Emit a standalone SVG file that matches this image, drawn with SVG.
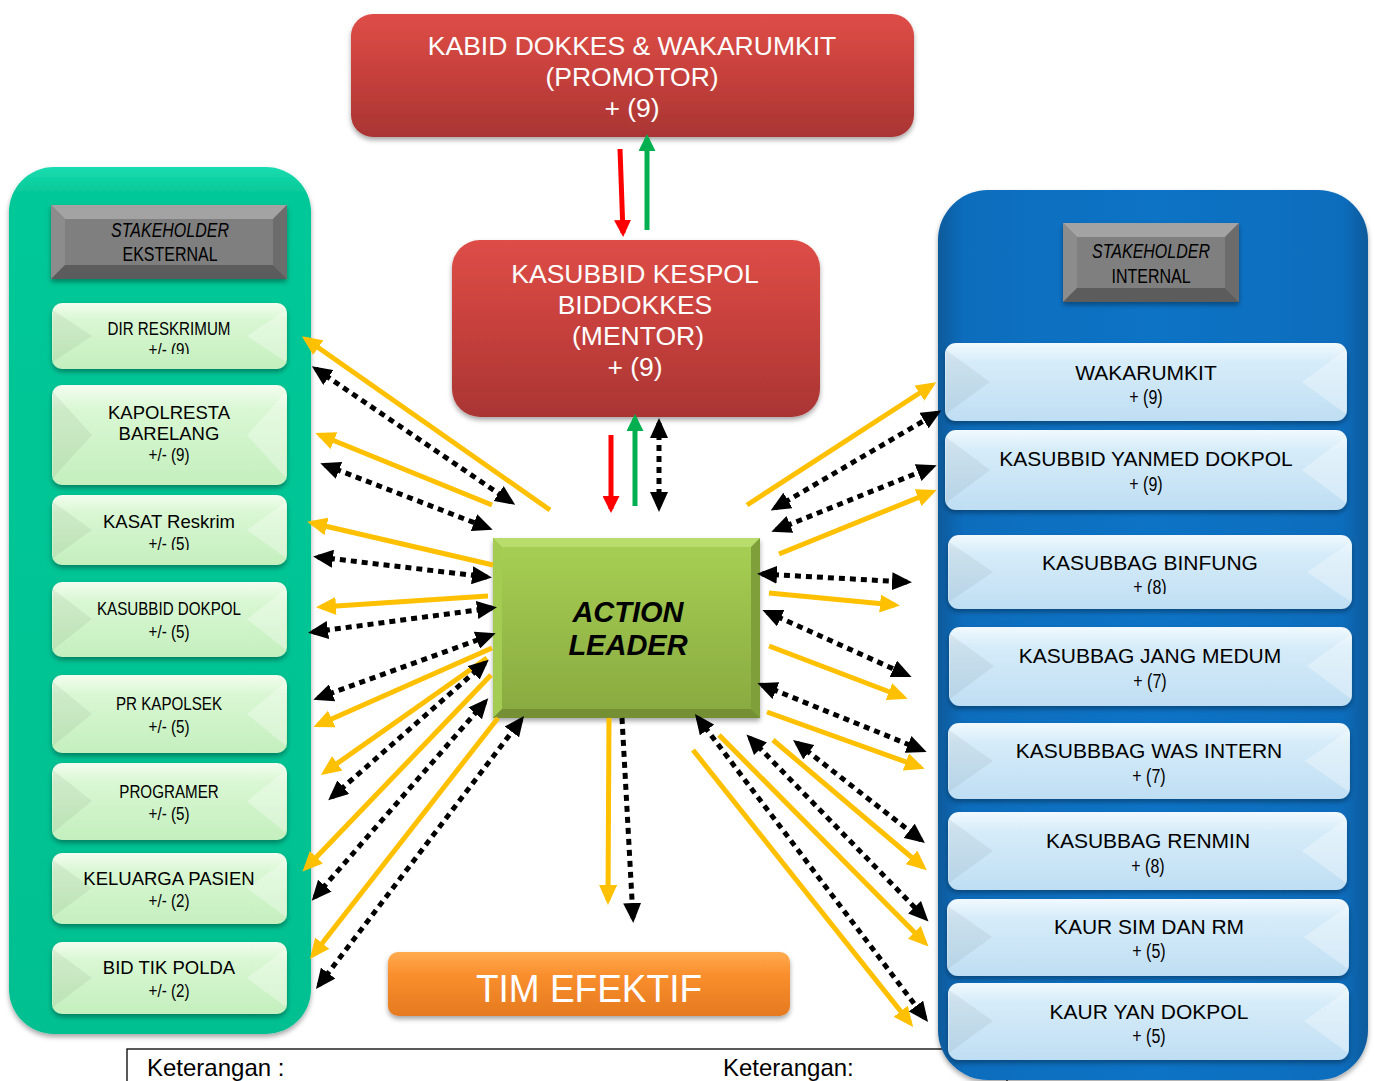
<svg xmlns="http://www.w3.org/2000/svg" width="1375" height="1081" viewBox="0 0 1375 1081">
<defs>
<style>
.t{font-family:"Liberation Sans",Arial,sans-serif;text-anchor:middle;fill:#000}
.n{font-family:"Liberation Sans",Arial,sans-serif;text-anchor:middle;fill:#000}
.w{fill:#fff;font-size:26.5px}
.s18{font-size:18.5px}
.s19{font-size:19.5px}
.s21{font-size:21px}
.yl{stroke:#ffc000;stroke-width:5;fill:none;marker-end:url(#ay)}
.bd{stroke:#000;stroke-width:5;fill:none;stroke-dasharray:6 5;marker-start:url(#ab);marker-end:url(#ab)}
.bs{stroke:#000;stroke-width:5;fill:none;stroke-dasharray:6 5;marker-end:url(#ab)}
.gi{fill:url(#gG)}
.bi{fill:url(#gB)}
.sl{fill:#000;opacity:.05}
.sr{fill:#fff;opacity:.3}
</style>
<linearGradient id="gG" x1="0" y1="0" x2="0" y2="1"><stop offset="0" stop-color="#f3fdef"/><stop offset=".25" stop-color="#d9f7d3"/><stop offset="1" stop-color="#c4efbe"/></linearGradient>
<linearGradient id="gB" x1="0" y1="0" x2="0" y2="1"><stop offset="0" stop-color="#f1f9fe"/><stop offset=".25" stop-color="#d6ecf9"/><stop offset="1" stop-color="#bfdef3"/></linearGradient>
<linearGradient id="gR" x1="0" y1="0" x2="0" y2="1"><stop offset="0" stop-color="#de4d47"/><stop offset=".5" stop-color="#c6403c"/><stop offset="1" stop-color="#a93533"/></linearGradient>
<linearGradient id="gT" x1="0" y1="0" x2="0" y2="1"><stop offset="0" stop-color="#19dcb0"/><stop offset=".03" stop-color="#05c898"/><stop offset="1" stop-color="#02c091"/></linearGradient>
<linearGradient id="gBl" x1="0" y1="0" x2="1" y2="0"><stop offset="0" stop-color="#0b5a9b"/><stop offset=".06" stop-color="#0a6dbd"/><stop offset=".5" stop-color="#0a73c5"/><stop offset=".94" stop-color="#0a6dbd"/><stop offset="1" stop-color="#0b5a9b"/></linearGradient>
<linearGradient id="gO" x1="0" y1="0" x2="0" y2="1"><stop offset="0" stop-color="#ffab50"/><stop offset=".35" stop-color="#fa8f2e"/><stop offset="1" stop-color="#e57a20"/></linearGradient>
<linearGradient id="gA" x1="0" y1="0" x2="0" y2="1"><stop offset="0" stop-color="#a8d054"/><stop offset="1" stop-color="#88a940"/></linearGradient>
<filter id="sh" x="-10%" y="-10%" width="120%" height="130%"><feDropShadow dx="0" dy="3" stdDeviation="2.5" flood-color="#000" flood-opacity=".35"/></filter>
<marker id="ay" markerUnits="userSpaceOnUse" markerWidth="20" markerHeight="18" viewBox="0 0 20 18" refX="15" refY="9" orient="auto"><path d="M0,0 L20,9 L0,18Z" fill="#ffc000"/></marker>
<marker id="ab" markerUnits="userSpaceOnUse" markerWidth="20" markerHeight="18" viewBox="0 0 20 18" refX="15" refY="9" orient="auto-start-reverse"><path d="M0,0 L20,9 L0,18Z" fill="#000"/></marker>
<marker id="ar" markerUnits="userSpaceOnUse" markerWidth="17" markerHeight="17" viewBox="0 0 17 17" refX="13" refY="8.5" orient="auto"><path d="M0,0 L17,8.5 L0,17Z" fill="#ff0000"/></marker>
<marker id="ag" markerUnits="userSpaceOnUse" markerWidth="17" markerHeight="17" viewBox="0 0 17 17" refX="13" refY="8.5" orient="auto"><path d="M0,0 L17,8.5 L0,17Z" fill="#00b050"/></marker>
<clipPath id="c1"><rect x="52" y="300" width="235" height="54"/></clipPath>
<clipPath id="c3"><rect x="52" y="492" width="235" height="58"/></clipPath>
<clipPath id="c9"><rect x="948" y="530" width="404" height="64"/></clipPath>
</defs>
<rect width="1375" height="1081" fill="#fff"/>

<g id="keterangan">
<rect x="127" y="1049" width="880" height="60" fill="#fff" stroke="#000" stroke-width="1.3"/>
<text class="t" x="147" y="1076" font-size="24" style="text-anchor:start">Keterangan :</text>
<text class="t" x="723" y="1076" font-size="24" style="text-anchor:start">Keterangan:</text>
</g>

<g id="panel-eksternal">
<rect x="9" y="167" width="302" height="867" rx="45" fill="url(#gT)" filter="url(#sh)"/>
</g>
<g id="panel-internal">
<rect x="938" y="190" width="430" height="890" rx="50" fill="url(#gBl)" filter="url(#sh)"/>
</g>

<g id="hdr-eksternal">
<rect x="51" y="205" width="236" height="74" fill="#7f7f7f" filter="url(#sh)"/>
<path d="M51,205 L287,205 L273,219 L65,219Z" fill="#a3a3a3"/>
<path d="M51,205 L65,219 L65,265 L51,279Z" fill="#8c8c8c"/>
<path d="M287,205 L273,219 L273,265 L287,279Z" fill="#6c6c6c"/>
<path d="M51,279 L65,265 L273,265 L287,279Z" fill="#5c5c5c"/>
<text class="n s19" transform="translate(170,237) scale(0.82,1)" font-style="italic">STAKEHOLDER</text>
<text class="n s19" transform="translate(170,261) scale(0.82,1)">EKSTERNAL</text>
</g>

<g id="hdr-internal">
<rect x="1063" y="223" width="176" height="79" fill="#7f7f7f" filter="url(#sh)"/>
<path d="M1063,223 L1239,223 L1225,237 L1077,237Z" fill="#a3a3a3"/>
<path d="M1063,223 L1077,237 L1077,288 L1063,302Z" fill="#8c8c8c"/>
<path d="M1239,223 L1225,237 L1225,288 L1239,302Z" fill="#6c6c6c"/>
<path d="M1063,302 L1077,288 L1225,288 L1239,302Z" fill="#5c5c5c"/>
<text class="n s19" transform="translate(1151,258) scale(0.82,1)" font-style="italic">STAKEHOLDER</text>
<text class="n s19" transform="translate(1151,283) scale(0.82,1)">INTERNAL</text>
</g>

<g id="e1">
<rect class="gi" x="52" y="303" width="235" height="66" rx="10" filter="url(#sh)"/>
<path class="sl" d="M53,310 L92,336 L53,362Z"/><path class="sr" d="M286,310 L247,336 L286,362Z"/>
<g clip-path="url(#c1)"><text class="n s18" transform="translate(169,335) scale(0.82,1)">DIR RESKRIMUM</text><text class="n s18" transform="translate(169,356) scale(0.82,1)">+/- (9)</text></g>
</g>
<g id="e2">
<rect class="gi" x="52" y="385" width="235" height="100" rx="10" filter="url(#sh)"/>
<path class="sl" d="M53,392 L92,435 L53,478Z"/><path class="sr" d="M286,392 L247,435 L286,478Z"/>
<text class="t s18" x="169" y="419">KAPOLRESTA</text><text class="t s18" x="169" y="440">BARELANG</text><text class="n s18" transform="translate(169,461) scale(0.82,1)">+/- (9)</text>
</g>
<g id="e3">
<rect class="gi" x="52" y="495" width="235" height="70" rx="10" filter="url(#sh)"/>
<path class="sl" d="M53,502 L92,530 L53,558Z"/><path class="sr" d="M286,502 L247,530 L286,558Z"/>
<g clip-path="url(#c3)"><text class="t s18" x="169" y="528">KASAT Reskrim</text><text class="n s18" transform="translate(169,550) scale(0.82,1)">+/- (5)</text></g>
</g>
<g id="e4">
<rect class="gi" x="52" y="582" width="235" height="75" rx="10" filter="url(#sh)"/>
<path class="sl" d="M53,589 L92,619 L53,650Z"/><path class="sr" d="M286,589 L247,619 L286,650Z"/>
<text class="n s18" transform="translate(169,615) scale(0.82,1)">KASUBBID DOKPOL</text><text class="n s18" transform="translate(169,638) scale(0.82,1)">+/- (5)</text>
</g>
<g id="e5">
<rect class="gi" x="52" y="675" width="235" height="78" rx="10" filter="url(#sh)"/>
<path class="sl" d="M53,682 L92,714 L53,746Z"/><path class="sr" d="M286,682 L247,714 L286,746Z"/>
<text class="n s18" transform="translate(169,710) scale(0.82,1)">PR KAPOLSEK</text><text class="n s18" transform="translate(169,733) scale(0.82,1)">+/- (5)</text>
</g>
<g id="e6">
<rect class="gi" x="52" y="763" width="235" height="77" rx="10" filter="url(#sh)"/>
<path class="sl" d="M53,770 L92,801 L53,833Z"/><path class="sr" d="M286,770 L247,801 L286,833Z"/>
<text class="n s18" transform="translate(169,798) scale(0.82,1)">PROGRAMER</text><text class="n s18" transform="translate(169,820) scale(0.82,1)">+/- (5)</text>
</g>
<g id="e7">
<rect class="gi" x="52" y="853" width="235" height="71" rx="10" filter="url(#sh)"/>
<path class="sl" d="M53,860 L92,888 L53,917Z"/><path class="sr" d="M286,860 L247,888 L286,917Z"/>
<text class="t s18" x="169" y="885">KELUARGA PASIEN</text><text class="n s18" transform="translate(169,907) scale(0.82,1)">+/- (2)</text>
</g>
<g id="e8">
<rect class="gi" x="52" y="942" width="235" height="72" rx="10" filter="url(#sh)"/>
<path class="sl" d="M53,949 L92,978 L53,1007Z"/><path class="sr" d="M286,949 L247,978 L286,1007Z"/>
<text class="t s18" x="169" y="974">BID TIK POLDA</text><text class="n s18" transform="translate(169,997) scale(0.82,1)">+/- (2)</text>
</g>

<g id="i1">
<rect class="bi" x="945" y="343" width="402" height="78" rx="11" filter="url(#sh)"/>
<path class="sl" d="M946,350 L990,382 L946,414Z"/><path class="sr" d="M1346,350 L1302,382 L1346,414Z"/>
<text class="t s21" x="1146" y="380">WAKARUMKIT</text><text class="n s19" transform="translate(1146,404) scale(0.82,1)">+ (9)</text>
</g>
<g id="i2">
<rect class="bi" x="945" y="430" width="402" height="80" rx="11" filter="url(#sh)"/>
<path class="sl" d="M946,437 L990,470 L946,503Z"/><path class="sr" d="M1346,437 L1302,470 L1346,503Z"/>
<text class="t s21" x="1146" y="466">KASUBBID YANMED DOKPOL</text><text class="n s19" transform="translate(1146,491) scale(0.82,1)">+ (9)</text>
</g>
<g id="i3">
<rect class="bi" x="948" y="535" width="404" height="74" rx="11" filter="url(#sh)"/>
<path class="sl" d="M949,542 L993,572 L949,602Z"/><path class="sr" d="M1351,542 L1307,572 L1351,602Z"/>
<g clip-path="url(#c9)"><text class="t s21" x="1150" y="570">KASUBBAG BINFUNG</text><text class="n s19" transform="translate(1150,594) scale(0.82,1)">+ (8)</text></g>
</g>
<g id="i4">
<rect class="bi" x="949" y="627" width="403" height="79" rx="11" filter="url(#sh)"/>
<path class="sl" d="M950,634 L994,666 L950,699Z"/><path class="sr" d="M1351,634 L1307,666 L1351,699Z"/>
<text class="t s21" x="1150" y="663">KASUBBAG JANG MEDUM</text><text class="n s19" transform="translate(1150,688) scale(0.82,1)">+ (7)</text>
</g>
<g id="i5">
<rect class="bi" x="948" y="723" width="402" height="76" rx="11" filter="url(#sh)"/>
<path class="sl" d="M949,730 L993,761 L949,792Z"/><path class="sr" d="M1349,730 L1305,761 L1349,792Z"/>
<text class="t s21" x="1149" y="758">KASUBBBAG WAS INTERN</text><text class="n s19" transform="translate(1149,783) scale(0.82,1)">+ (7)</text>
</g>
<g id="i6">
<rect class="bi" x="948" y="812" width="399" height="78" rx="11" filter="url(#sh)"/>
<path class="sl" d="M949,819 L993,851 L949,883Z"/><path class="sr" d="M1346,819 L1302,851 L1346,883Z"/>
<text class="t s21" x="1148" y="848">KASUBBAG RENMIN</text><text class="n s19" transform="translate(1148,873) scale(0.82,1)">+ (8)</text>
</g>
<g id="i7">
<rect class="bi" x="947" y="899" width="402" height="77" rx="11" filter="url(#sh)"/>
<path class="sl" d="M948,906 L992,937 L948,969Z"/><path class="sr" d="M1348,906 L1304,937 L1348,969Z"/>
<text class="t s21" x="1149" y="934">KAUR SIM DAN RM</text><text class="n s19" transform="translate(1149,958) scale(0.82,1)">+ (5)</text>
</g>
<g id="i8">
<rect class="bi" x="948" y="983" width="401" height="77" rx="11" filter="url(#sh)"/>
<path class="sl" d="M949,990 L993,1021 L949,1053Z"/><path class="sr" d="M1348,990 L1304,1021 L1348,1053Z"/>
<text class="t s21" x="1149" y="1019">KAUR YAN DOKPOL</text><text class="n s19" transform="translate(1149,1043) scale(0.82,1)">+ (5)</text>
</g>

<g id="promotor">
<rect x="351" y="14" width="563" height="123" rx="22" fill="url(#gR)" filter="url(#sh)"/>
<text class="t w" x="632" y="55">KABID DOKKES &amp; WAKARUMKIT</text>
<text class="t w" x="632" y="86">(PROMOTOR)</text>
<text class="t w" x="632" y="117">+ (9)</text>
</g>
<g id="mentor">
<rect x="452" y="240" width="368" height="177" rx="28" fill="url(#gR)" filter="url(#sh)"/>
<text class="t w" x="635" y="283">KASUBBID KESPOL</text>
<text class="t w" x="635" y="314">BIDDOKKES</text>
<text class="t w" x="638" y="345">(MENTOR)</text>
<text class="t w" x="635" y="376">+ (9)</text>
</g>
<g id="action-leader">
<rect x="493" y="538" width="267" height="180" fill="url(#gA)" filter="url(#sh)"/>
<path d="M493,538 L760,538 L751,547 L502,547Z" fill="#b9dd6c"/>
<path d="M493,538 L502,547 L502,709 L493,718Z" fill="#a4cb52"/>
<path d="M760,538 L751,547 L751,709 L760,718Z" fill="#7f9f3a"/>
<path d="M493,718 L502,709 L751,709 L760,718Z" fill="#748f34"/>
<text class="t" x="628" y="622" font-size="29" font-weight="bold" font-style="italic">ACTION</text>
<text class="t" x="628" y="655" font-size="29" font-weight="bold" font-style="italic">LEADER</text>
</g>
<g id="tim-efektif">
<rect x="388" y="952" width="402" height="64" rx="10" fill="url(#gO)" filter="url(#sh)"/>
<text class="t" x="589" y="1002" font-size="39" style="fill:#fff" textLength="226" lengthAdjust="spacingAndGlyphs">TIM EFEKTIF</text>
</g>

<g id="connectors">
<line x1="620" y1="149" x2="623" y2="233" stroke="#ff0000" stroke-width="5" marker-end="url(#ar)"/>
<line x1="647" y1="230" x2="647" y2="138" stroke="#00b050" stroke-width="5" marker-end="url(#ag)"/>
<line x1="611" y1="435" x2="611" y2="509" stroke="#ff0000" stroke-width="5" marker-end="url(#ar)"/>
<line x1="635" y1="506" x2="635" y2="418" stroke="#00b050" stroke-width="5" marker-end="url(#ag)"/>
<line class="bd" x1="659" y1="423" x2="659" y2="507"/>

<line class="yl" x1="550" y1="510" x2="306" y2="339"/>
<line class="yl" x1="492" y1="505" x2="320" y2="435"/>
<line class="yl" x1="493" y1="565" x2="312" y2="523"/>
<line class="yl" x1="488" y1="596" x2="321" y2="607"/>
<line class="yl" x1="492" y1="648" x2="318" y2="725"/>
<line class="yl" x1="487" y1="658" x2="325" y2="772"/>
<line class="yl" x1="491" y1="675" x2="306" y2="868"/>
<line class="yl" x1="498" y1="718" x2="313" y2="955"/>
<line class="yl" x1="609" y1="718" x2="608" y2="900"/>
<line class="yl" x1="747" y1="505" x2="932" y2="385"/>
<line class="yl" x1="779" y1="554" x2="932" y2="492"/>
<line class="yl" x1="769" y1="593" x2="895" y2="605"/>
<line class="yl" x1="769" y1="646" x2="903" y2="697"/>
<line class="yl" x1="767" y1="712" x2="920" y2="767"/>
<line class="yl" x1="773" y1="740" x2="923" y2="867"/>
<line class="yl" x1="719" y1="735" x2="925" y2="943"/>
<line class="yl" x1="693" y1="750" x2="910" y2="1023"/>

<line class="bd" x1="316" y1="369" x2="511" y2="502"/>
<line class="bd" x1="325" y1="465" x2="488" y2="528"/>
<line class="bd" x1="318" y1="557" x2="487" y2="577"/>
<line class="bd" x1="313" y1="632" x2="492" y2="608"/>
<line class="bd" x1="318" y1="698" x2="491" y2="635"/>
<line class="bd" x1="332" y1="797" x2="485" y2="663"/>
<line class="bd" x1="315" y1="897" x2="485" y2="702"/>
<line class="bd" x1="319" y1="985" x2="521" y2="720"/>
<line class="bs" x1="622" y1="718" x2="633" y2="918"/>
<line class="bd" x1="775" y1="508" x2="937" y2="413"/>
<line class="bd" x1="776" y1="530" x2="932" y2="467"/>
<line class="bd" x1="762" y1="574" x2="907" y2="582"/>
<line class="bd" x1="767" y1="612" x2="907" y2="675"/>
<line class="bd" x1="762" y1="685" x2="922" y2="750"/>
<line class="bd" x1="797" y1="743" x2="921" y2="840"/>
<line class="bd" x1="750" y1="738" x2="925" y2="918"/>
<line class="bd" x1="698" y1="718" x2="925" y2="1018"/>
</g>
</svg>
